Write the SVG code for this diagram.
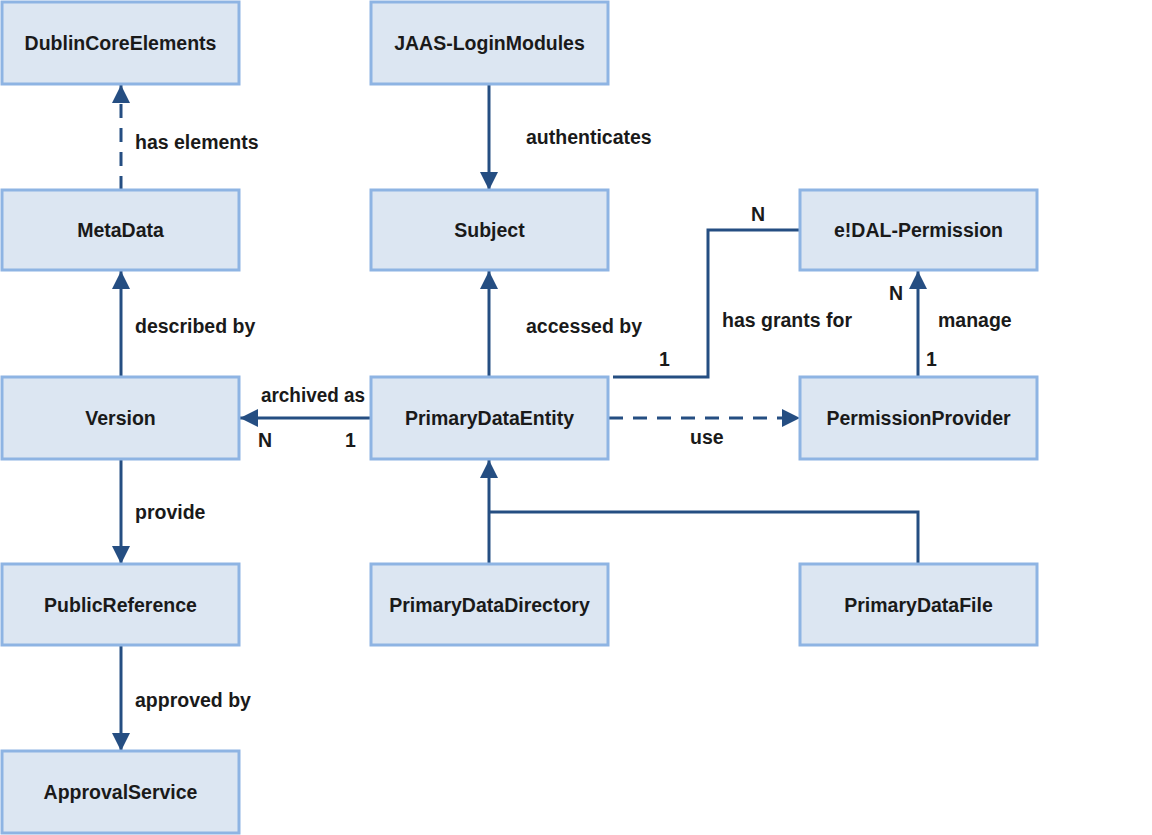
<svg xmlns="http://www.w3.org/2000/svg" width="1152" height="835" viewBox="0 0 1152 835">
<style>
.box{fill:#DCE6F2;stroke:#8EB4E3;stroke-width:3}
.t{font-family:"Liberation Sans",Arial,sans-serif;font-weight:bold;font-size:19.5px;fill:#1a1a1a}
.c{text-anchor:middle}
.ln{fill:none;stroke:#254E82;stroke-width:3}
.d{stroke-dasharray:14,10}
</style>
<defs>
<marker id="a" viewBox="0 0 18 18" refX="18" refY="9" markerWidth="18" markerHeight="18" markerUnits="userSpaceOnUse" orient="auto">
<path d="M0,0 L18,9 L0,18 z" fill="#254E82"/>
</marker>
</defs>
<rect width="1152" height="835" fill="#fff"/>
<g id="connectors">
<line class="ln d" x1="121" y1="190" x2="121" y2="85" marker-end="url(#a)"/>
<line class="ln" x1="121" y1="377" x2="121" y2="271" marker-end="url(#a)"/>
<line class="ln" x1="121" y1="459" x2="121" y2="564" marker-end="url(#a)"/>
<line class="ln" x1="121" y1="645" x2="121" y2="751" marker-end="url(#a)"/>
<line class="ln" x1="489" y1="84" x2="489" y2="190" marker-end="url(#a)"/>
<line class="ln" x1="489" y1="377" x2="489" y2="271" marker-end="url(#a)"/>
<line class="ln" x1="371" y1="418" x2="240" y2="418" marker-end="url(#a)"/>
<line class="ln d" x1="609" y1="418" x2="800" y2="418" marker-end="url(#a)"/>
<polyline class="ln" points="613,377 708,377 708,230 800,230"/>
<line class="ln" x1="918" y1="377" x2="918" y2="271" marker-end="url(#a)"/>
<line class="ln" x1="489" y1="564" x2="489" y2="460" marker-end="url(#a)"/>
<polyline class="ln" points="489,512 918,512 918,564"/>
</g>
<g id="labels">
<text class="t" x="135" y="149">has elements</text>
<text class="t" x="135" y="333">described by</text>
<text class="t" x="135" y="519">provide</text>
<text class="t" x="135" y="707">approved by</text>
<text class="t" x="526" y="144">authenticates</text>
<text class="t" x="526" y="333">accessed by</text>
<text class="t" x="261" y="402" textLength="104" lengthAdjust="spacingAndGlyphs">archived as</text>
<text class="t" x="258" y="447">N</text>
<text class="t" x="345" y="447">1</text>
<text class="t" x="690" y="444">use</text>
<text class="t" x="722" y="327">has grants for</text>
<text class="t" x="751" y="221">N</text>
<text class="t" x="659" y="366">1</text>
<text class="t" x="889" y="300">N</text>
<text class="t" x="926" y="366">1</text>
<text class="t" x="938" y="327">manage</text>
</g>
<g id="DublinCoreElements"><rect class="box" x="2" y="2" width="237" height="82"/><text class="t c" x="120.5" y="50">DublinCoreElements</text></g>
<g id="MetaData"><rect class="box" x="2" y="190" width="237" height="80"/><text class="t c" x="120.5" y="237">MetaData</text></g>
<g id="Version"><rect class="box" x="2" y="377" width="237" height="82"/><text class="t c" x="120.5" y="425">Version</text></g>
<g id="PublicReference"><rect class="box" x="2" y="564" width="237" height="81"/><text class="t c" x="120.5" y="612">PublicReference</text></g>
<g id="ApprovalService"><rect class="box" x="2" y="751" width="237" height="82"/><text class="t c" x="120.5" y="799">ApprovalService</text></g>
<g id="JAAS-LoginModules"><rect class="box" x="371" y="2" width="237" height="82"/><text class="t c" x="489.5" y="50">JAAS-LoginModules</text></g>
<g id="Subject"><rect class="box" x="371" y="190" width="237" height="80"/><text class="t c" x="489.5" y="237">Subject</text></g>
<g id="PrimaryDataEntity"><rect class="box" x="371" y="377" width="237" height="82"/><text class="t c" x="489.5" y="425">PrimaryDataEntity</text></g>
<g id="PrimaryDataDirectory"><rect class="box" x="371" y="564" width="237" height="81"/><text class="t c" x="489.5" y="612">PrimaryDataDirectory</text></g>
<g id="e!DAL-Permission"><rect class="box" x="800" y="190" width="237" height="80"/><text class="t c" x="918.5" y="237">e!DAL-Permission</text></g>
<g id="PermissionProvider"><rect class="box" x="800" y="377" width="237" height="82"/><text class="t c" x="918.5" y="425">PermissionProvider</text></g>
<g id="PrimaryDataFile"><rect class="box" x="800" y="564" width="237" height="81"/><text class="t c" x="918.5" y="612">PrimaryDataFile</text></g>
</svg>
